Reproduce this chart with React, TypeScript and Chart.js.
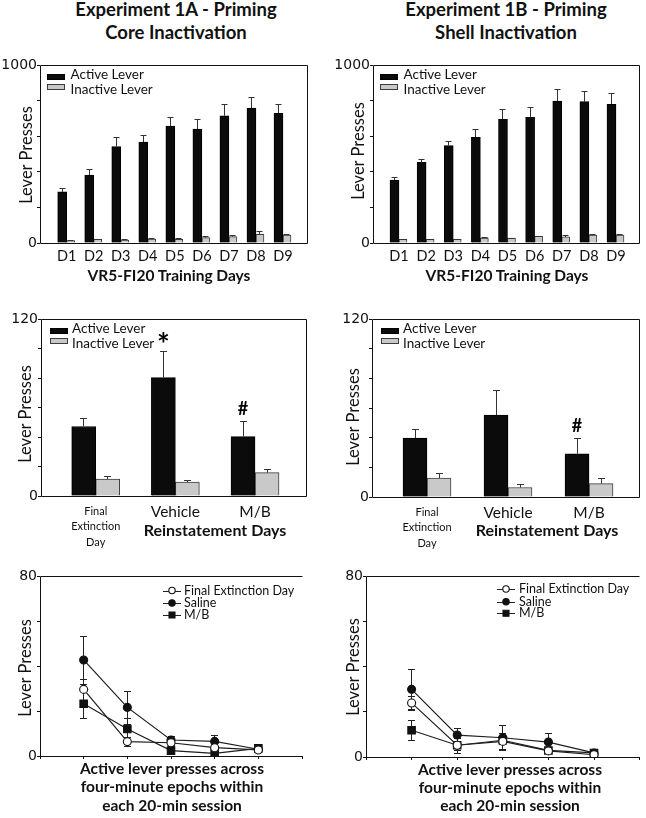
import React, { useEffect, useRef } from "react";
import { Chart, registerables } from "chart.js";

Chart.register(...registerables);

// ---------------- DATA ----------------
const trainingDays = ["D1", "D2", "D3", "D4", "D5", "D6", "D7", "D8", "D9"];

const coreTrainActive = [287, 382, 541, 567, 657, 640, 715, 758, 729];
const coreTrainActiveSem = [24, 34, 56, 38, 49, 58, 64, 62, 50];
const coreTrainInactive = [13, 20, 17, 22, 20, 30, 36, 49, 45];
const coreTrainInactiveSem = [3, 3, 3, 6, 6, 8, 8, 18, 7];

const shellTrainActive = [354, 453, 547, 594, 695, 706, 798, 794, 779];
const shellTrainActiveSem = [18, 21, 26, 45, 56, 60, 67, 58, 62];
const shellTrainInactive = [20, 20, 20, 27, 27, 37, 34, 45, 45];
const shellTrainInactiveSem = [3, 3, 3, 4, 3, 4, 11, 8, 8];

const reinstCategories: (string | string[])[] = [["Final", "Extinction", "Day"], "Vehicle", "M/B"];

const coreReinstActive = [47.1, 80.3, 40.3];
const coreReinstActiveSem = [5.7, 18.0, 10.8];
const coreReinstInactive = [11.5, 9.5, 15.8];
const coreReinstInactiveSem = [2.3, 1.6, 2.3];
const coreReinstMarks = ["", "*", "#"];

const shellReinstActive = [39.7, 55.3, 29.1];
const shellReinstActiveSem = [5.9, 16.7, 10.4];
const shellReinstInactive = [12.7, 6.4, 9.0];
const shellReinstInactiveSem = [3.5, 2.4, 3.9];
const shellReinstMarks = ["", "", "#"];

const epochs = [1, 2, 3, 4, 5];

const coreEpochFinalExt = [29.6, 6.4, 5.9, 3.7, 2.7];
const coreEpochFinalExtSem = [4.6, 2.0, 1.5, 1.5, 1.0];
const coreEpochSaline = [42.7, 21.6, 7.1, 6.5, 3.0];
const coreEpochSalineSem = [10.5, 7.5, 2.0, 3.0, 1.0];
const coreEpochMB = [23.2, 12.0, 2.4, 1.2, 3.4];
const coreEpochMBSem = [6.5, 5.0, 1.0, 0.5, 1.0];

const shellEpochFinalExt = [23.9, 5.2, 6.9, 2.7, 1.0];
const shellEpochFinalExtSem = [3.0, 2.0, 3.5, 1.0, 0.8];
const shellEpochSaline = [29.9, 9.7, 8.5, 6.6, 1.8];
const shellEpochSalineSem = [8.8, 3.0, 5.5, 4.2, 0.8];
const shellEpochMB = [11.8, 5.2, 7.4, 2.9, 1.8];
const shellEpochMBSem = [4.4, 3.4, 1.5, 1.0, 0.8];

// ---------------- STYLE ----------------
const FONT = "Lato, 'Open Sans', sans-serif";
const NUMFONT = "'DejaVu Sans', sans-serif";
const INK = "#111111";

type Box = {
  left: number; top: number; width: number; height: number;
  yW: number; xH: number; padTop: number; padRight: number;
};

const align = (p: number) => Math.round(p - 0.5) + 0.5;

function framePlugin(sides: { top: boolean; right: boolean; bottom: boolean; left: boolean }) {
  return {
    id: "frame",
    afterDraw(chart: any) {
      const { ctx, chartArea: a } = chart;
      const L = align(a.left), R = align(a.right), T = align(a.top), B = align(a.bottom);
      ctx.save();
      ctx.strokeStyle = INK;
      ctx.lineWidth = 1;
      ctx.beginPath();
      if (sides.top) { ctx.moveTo(L, T); ctx.lineTo(R, T); }
      if (sides.right) { ctx.moveTo(R, T); ctx.lineTo(R, B); }
      if (sides.bottom) { ctx.moveTo(L, B); ctx.lineTo(R, B); }
      if (sides.left) { ctx.moveTo(L, T); ctx.lineTo(L, B); }
      ctx.stroke();
      ctx.restore();
    },
  };
}

function barExtrasPlugin(opts: { capW: number; marks?: string[] }) {
  return {
    id: "barExtras",
    afterDatasetsDraw(chart: any) {
      const { ctx } = chart;
      const ys = chart.scales.y;
      ctx.save();
      chart.data.datasets.forEach((ds: any, di: number) => {
        const meta = chart.getDatasetMeta(di);
        meta.data.forEach((el: any, i: number) => {
          const v = ds.data[i].y;
          const s = ds.sem[i];
          const top = Math.round(ys.getPixelForValue(v + s)) + 0.5;
          const x = align(el.x);
          ctx.strokeStyle = "#333";
          ctx.lineWidth = 1;
          ctx.beginPath();
          ctx.moveTo(x, el.y);
          ctx.lineTo(x, top);
          ctx.moveTo(x - opts.capW / 2, top);
          ctx.lineTo(x + opts.capW / 2, top);
          ctx.stroke();
          if (di === 0 && opts.marks && opts.marks[i]) {
            const m = opts.marks[i];
            ctx.fillStyle = "#000";
            ctx.font = m === "*" ? `bold 30px ${FONT}` : `bold 18px ${FONT}`;
            ctx.textAlign = "center";
            ctx.textBaseline = "alphabetic";
            const mt = ctx.measureText(m);
            const cy = top - 14;
            const base = cy + (mt.actualBoundingBoxAscent - mt.actualBoundingBoxDescent) / 2;
            ctx.fillText(m, el.x, base);
          }
        });
      });
      ctx.restore();
    },
  };
}

function barLegendPlugin(opts: { rectX: number; rectW: number; rectH: number; rectDy: number[]; textX: number; textDy: number[] }) {
  return {
    id: "barLegend",
    afterDraw(chart: any) {
      const { ctx, chartArea: a } = chart;
      ctx.save();
      chart.data.datasets.forEach((ds: any, i: number) => {
        const x = Math.round(a.left + opts.rectX);
        const y = Math.round(a.top + opts.rectDy[i] - opts.rectH / 2);
        ctx.fillStyle = ds.backgroundColor;
        ctx.fillRect(x, y, opts.rectW, opts.rectH);
        ctx.strokeStyle = ds.borderColor;
        ctx.lineWidth = 1;
        ctx.strokeRect(x + 0.5, y + 0.5, opts.rectW - 1, opts.rectH - 1);
        ctx.fillStyle = INK;
        ctx.font = `13.5px ${FONT}`;
        ctx.textAlign = "left";
        ctx.textBaseline = "middle";
        ctx.fillText(ds.label, a.left + opts.textX, a.top + opts.textDy[i]);
      });
      ctx.restore();
    },
  };
}

function drawMarker(ctx: any, ds: any, x: number, y: number, scale: number) {
  ctx.beginPath();
  if (ds.pointStyle === "rect") {
    const h = ds.pointRadius * Math.SQRT1_2 * scale;
    ctx.rect(x - h, y - h, 2 * h, 2 * h);
  } else {
    ctx.arc(x, y, ds.pointRadius * scale, 0, Math.PI * 2);
  }
  ctx.fillStyle = ds.pointBackgroundColor;
  ctx.fill();
  ctx.strokeStyle = ds.pointBorderColor;
  ctx.lineWidth = 1.1;
  ctx.stroke();
}

function lineExtrasPlugin(opts: { capW: number; markX: number; textX: number; rowDy: number[] }) {
  return {
    id: "lineExtras",
    beforeDatasetsDraw(chart: any) {
      const { ctx } = chart;
      const xs = chart.scales.x, ys = chart.scales.y;
      ctx.save();
      ctx.strokeStyle = "#222";
      ctx.lineWidth = 1;
      chart.data.datasets.forEach((ds: any) => {
        ds.data.forEach((p: any, i: number) => {
          const s = ds.sem[i];
          const x = align(xs.getPixelForValue(p.x));
          const t = Math.round(ys.getPixelForValue(p.y + s)) + 0.5;
          const b = Math.round(ys.getPixelForValue(Math.max(0, p.y - s))) + 0.5;
          ctx.beginPath();
          ctx.moveTo(x, t); ctx.lineTo(x, b);
          ctx.moveTo(x - opts.capW / 2, t); ctx.lineTo(x + opts.capW / 2, t);
          ctx.moveTo(x - opts.capW / 2, b); ctx.lineTo(x + opts.capW / 2, b);
          ctx.stroke();
        });
      });
      ctx.restore();
    },
    afterDraw(chart: any) {
      const { ctx, chartArea: a } = chart;
      ctx.save();
      chart.data.datasets.forEach((ds: any, i: number) => {
        const cx = a.left + opts.markX;
        const cy = a.top + opts.rowDy[i];
        ctx.strokeStyle = "#222";
        ctx.lineWidth = 1;
        ctx.beginPath();
        ctx.moveTo(cx - 9, Math.round(cy) + 0.5);
        ctx.lineTo(cx + 9, Math.round(cy) + 0.5);
        ctx.stroke();
        drawMarker(ctx, ds, cx, cy, 0.8);
        ctx.fillStyle = INK;
        ctx.font = `12.5px ${FONT}`;
        ctx.textAlign = "left";
        ctx.textBaseline = "middle";
        ctx.fillText(ds.label, a.left + opts.textX, cy);
      });
      ctx.restore();
    },
  };
}

function yAxis(box: Box, max: number, step: number) {
  return {
    type: "linear",
    min: 0,
    max,
    afterFit: (ax: any) => { ax.width = box.yW; },
    grid: { drawOnChartArea: false, drawTicks: true, tickLength: 3, color: INK },
    border: { display: false },
    ticks: {
      stepSize: step,
      padding: 0,
      color: INK,
      font: { family: NUMFONT, size: 14 },
      callback: (v: number) => (v === 0 || v === max ? String(v) : ""),
    },
  };
}

function barConfig(p: {
  box: Box; labels: (string | string[])[];
  active: number[]; activeSem: number[]; inactive: number[]; inactiveSem: number[];
  marks?: string[]; yMax: number; yStep: number; xMin: number; xMax: number;
  barW: number[]; capW: number; tickFont: (i: number) => any; tickPad: number;
  legend: { rectX: number; rectW: number; rectH: number; rectDy: number[]; textX: number; textDy: number[] };
}) {
  const { box } = p;
  return {
    type: "bar",
    data: {
      datasets: [
        {
          label: "Active Lever",
          data: p.active.map((v, i) => ({ x: i + 1, y: v })),
          sem: p.activeSem,
          backgroundColor: "#0b0b0b",
          borderColor: "#000000",
          borderWidth: 1,
          borderSkipped: "start",
          barThickness: p.barW[0],
        },
        {
          label: "Inactive Lever",
          data: p.inactive.map((v, i) => ({ x: i + 1, y: v })),
          sem: p.inactiveSem,
          backgroundColor: "#c9c9c9",
          borderColor: "#3c3c3c",
          borderWidth: 1,
          borderSkipped: "start",
          barThickness: p.barW[1],
        },
      ],
    },
    options: {
      responsive: false,
      animation: false,
      devicePixelRatio: 1,
      layout: { padding: { top: box.padTop, right: box.padRight, left: 0, bottom: 0 } },
      plugins: { legend: { display: false }, tooltip: { enabled: false } },
      scales: {
        x: {
          type: "linear",
          min: p.xMin,
          max: p.xMax,
          offset: false,
          afterBuildTicks: (ax: any) => { ax.ticks = p.labels.map((_, i) => ({ value: i + 1 })); },
          afterFit: (ax: any) => { ax.height = box.xH; },
          grid: { display: false, drawTicks: false, offset: false },
          border: { display: false },
          ticks: {
            autoSkip: false,
            maxRotation: 0,
            minRotation: 0,
            padding: p.tickPad,
            color: INK,
            font: (ctx: any) => p.tickFont(ctx.index),
            callback: (_v: any, i: number) => p.labels[i],
          },
        },
        y: yAxis(box, p.yMax, p.yStep),
      },
    },
    plugins: [
      framePlugin({ top: true, right: true, bottom: true, left: true }),
      barExtrasPlugin({ capW: p.capW, marks: p.marks }),
      barLegendPlugin(p.legend),
    ],
  };
}

function lineConfig(p: {
  box: Box; fe: number[]; feSem: number[]; sal: number[]; salSem: number[]; mb: number[]; mbSem: number[];
  markX: number; textX: number; rowDy: number[];
}) {
  const { box } = p;
  const common = {
    borderColor: "#1e1e1e",
    borderWidth: 1.2,
    pointBorderColor: "#111",
    pointBorderWidth: 1.1,
    fill: false,
    tension: 0,
  };
  const xy = (arr: number[]) => arr.map((v, i) => ({ x: epochs[i], y: v }));
  return {
    type: "line",
    data: {
      datasets: [
        { ...common, label: "Final Extinction Day", data: xy(p.fe), sem: p.feSem, pointStyle: "circle", pointRadius: 4, pointBackgroundColor: "#ffffff" },
        { ...common, label: "Saline", data: xy(p.sal), sem: p.salSem, pointStyle: "circle", pointRadius: 4, pointBackgroundColor: "#111111" },
        { ...common, label: "M/B", data: xy(p.mb), sem: p.mbSem, pointStyle: "rect", pointRadius: 5.3, pointBackgroundColor: "#111111" },
      ],
    },
    options: {
      responsive: false,
      animation: false,
      devicePixelRatio: 1,
      layout: { padding: { top: box.padTop, right: box.padRight, left: 0, bottom: 0 } },
      plugins: { legend: { display: false }, tooltip: { enabled: false } },
      scales: {
        x: {
          type: "linear",
          min: 0,
          max: 6,
          offset: false,
          afterFit: (ax: any) => { ax.height = box.xH; },
          grid: { display: true, drawOnChartArea: false, drawTicks: true, tickLength: 3, color: INK },
          border: { display: false },
          ticks: { stepSize: 1, display: false },
        },
        y: yAxis(box, 80, 20),
      },
    },
    plugins: [
      framePlugin({ top: true, right: false, bottom: true, left: true }),
      lineExtrasPlugin({ capW: 7, markX: p.markX, textX: p.textX, rowDy: p.rowDy }),
    ],
  };
}

// ---------------- LAYOUT ----------------
const boxTL: Box = { left: 0, top: 55, width: 315, height: 215, yW: 40, xH: 27, padTop: 10, padRight: 8 };
const boxTR: Box = { left: 323, top: 55, width: 323, height: 215, yW: 50, xH: 27, padTop: 10, padRight: 7 };
const boxML: Box = { left: 0, top: 309, width: 315, height: 251, yW: 41, xH: 64, padTop: 10, padRight: 9 };
const boxMR: Box = { left: 323, top: 309, width: 323, height: 251, yW: 49, xH: 63, padTop: 10, padRight: 7 };
const boxBL: Box = { left: 0, top: 566, width: 315, height: 200, yW: 40, xH: 10, padTop: 10, padRight: 13 };
const boxBR: Box = { left: 323, top: 566, width: 323, height: 200, yW: 43, xH: 9, padTop: 10, padRight: 6 };

const dayFont = () => ({ family: FONT, size: 14.5, lineHeight: 1.2 });
const reinstFont = (i: number) =>
  i === 0 ? { family: FONT, size: 11, lineHeight: 1.45 } : { family: FONT, size: 15.5, lineHeight: 1.2 };

const barLegend = { rectX: 7, rectW: 18, rectH: 6, rectDy: [11.5, 21.5], textX: 30.5, textDy: [10, 25] };

function ChartBox({ box, build }: { box: Box; build: () => any }) {
  const ref = useRef<HTMLCanvasElement | null>(null);
  useEffect(() => {
    if (!ref.current) return;
    const chart = new Chart(ref.current, build());
    return () => chart.destroy();
  }, []);
  return (
    <canvas
      ref={ref}
      width={box.width}
      height={box.height}
      style={{ position: "absolute", left: box.left, top: box.top, width: box.width, height: box.height }}
    />
  );
}

// Text placed by baseline of first line
function Txt({ x, base, size, bold, lh, lines }: { x: number; base: number; size: number; bold?: boolean; lh?: number; lines: string[] }) {
  const L = lh ?? size * 1.2;
  const top = base - (L - 1.2 * size) / 2 - 0.987 * size;
  return (
    <div
      style={{
        position: "absolute",
        left: x,
        top,
        transform: "translateX(-50%)",
        fontFamily: FONT,
        fontSize: size,
        fontWeight: bold ? 700 : 400,
        lineHeight: `${L}px`,
        color: INK,
        whiteSpace: "nowrap",
        textAlign: "center",
      }}
    >
      {lines.map((s, i) => (
        <div key={i}>{s}</div>
      ))}
    </div>
  );
}

function YTitle({ cx, cy }: { cx: number; cy: number }) {
  return (
    <div
      style={{
        position: "absolute",
        left: cx,
        top: cy,
        transform: "translate(-50%, -50%) rotate(-90deg)",
        fontFamily: FONT,
        fontSize: 16.5,
        lineHeight: "19.8px",
        color: INK,
        whiteSpace: "nowrap",
      }}
    >
      Lever Presses
    </div>
  );
}

export default function App() {
  return (
    <div style={{ position: "absolute", left: 0, top: 0, width: 646, height: 818, background: "#fff", overflow: "hidden" }}>
      <Txt x={176} base={16.7} size={18.5} bold lh={23.4} lines={["Experiment 1A - Priming", "Core Inactivation"]} />
      <Txt x={506} base={16.7} size={18.5} bold lh={23.4} lines={["Experiment 1B - Priming", "Shell Inactivation"]} />

      <ChartBox
        box={boxTL}
        build={() =>
          barConfig({
            box: boxTL, labels: trainingDays,
            active: coreTrainActive, activeSem: coreTrainActiveSem,
            inactive: coreTrainInactive, inactiveSem: coreTrainInactiveSem,
            yMax: 1000, yStep: 200, xMin: 0.013, xMax: 9.888,
            barW: [9, 8], capW: 6, tickFont: dayFont, tickPad: 5, legend: barLegend,
          })
        }
      />
      <ChartBox
        box={boxTR}
        build={() =>
          barConfig({
            box: boxTR, labels: trainingDays,
            active: shellTrainActive, activeSem: shellTrainActiveSem,
            inactive: shellTrainInactive, inactiveSem: shellTrainInactiveSem,
            yMax: 1000, yStep: 200, xMin: 0.042, xMax: 9.848,
            barW: [9, 8], capW: 6, tickFont: dayFont, tickPad: 5, legend: barLegend,
          })
        }
      />
      <ChartBox
        box={boxML}
        build={() =>
          barConfig({
            box: boxML, labels: reinstCategories,
            active: coreReinstActive, activeSem: coreReinstActiveSem,
            inactive: coreReinstInactive, inactiveSem: coreReinstInactiveSem,
            marks: coreReinstMarks,
            yMax: 120, yStep: 20, xMin: 0.313, xMax: 3.64,
            barW: [24, 24], capW: 7, tickFont: reinstFont, tickPad: 7,
            legend: { ...barLegend, rectX: 9, textX: 31 },
          })
        }
      />
      <ChartBox
        box={boxMR}
        build={() =>
          barConfig({
            box: boxMR, labels: reinstCategories,
            active: shellReinstActive, activeSem: shellReinstActiveSem,
            inactive: shellReinstInactive, inactiveSem: shellReinstInactiveSem,
            marks: shellReinstMarks,
            yMax: 120, yStep: 20, xMin: 0.321, xMax: 3.617,
            barW: [24, 24], capW: 7, tickFont: reinstFont, tickPad: 7,
            legend: { ...barLegend, rectX: 9, textX: 31 },
          })
        }
      />
      <ChartBox
        box={boxBL}
        build={() =>
          lineConfig({
            box: boxBL,
            fe: coreEpochFinalExt, feSem: coreEpochFinalExtSem,
            sal: coreEpochSaline, salSem: coreEpochSalineSem,
            mb: coreEpochMB, mbSem: coreEpochMBSem,
            markX: 132, textX: 144, rowDy: [14.5, 27, 39],
          })
        }
      />
      <ChartBox
        box={boxBR}
        build={() =>
          lineConfig({
            box: boxBR,
            fe: shellEpochFinalExt, feSem: shellEpochFinalExtSem,
            sal: shellEpochSaline, salSem: shellEpochSalineSem,
            mb: shellEpochMB, mbSem: shellEpochMBSem,
            markX: 140, textX: 153, rowDy: [13, 25.7, 37.3],
          })
        }
      />

      <YTitle cx={27} cy={155} />
      <YTitle cx={359} cy={151} />
      <YTitle cx={26} cy={414} />
      <YTitle cx={354} cy={417} />
      <YTitle cx={26} cy={668} />
      <YTitle cx={354} cy={667} />

      <Txt x={169} base={281.7} size={15.5} bold lines={["VR5-FI20 Training Days"]} />
      <Txt x={507} base={281.7} size={15.5} bold lines={["VR5-FI20 Training Days"]} />

      <Txt x={215} base={535.5} size={16} bold lines={["Reinstatement Days"]} />
      <Txt x={547} base={535.5} size={16} bold lines={["Reinstatement Days"]} />

      <Txt
        x={172}
        base={774.3}
        size={15.5}
        bold
        lh={18.3}
        lines={["Active lever presses across", "four-minute epochs within", "each 20-min session"]}
      />
      <Txt
        x={510}
        base={775}
        size={15.5}
        bold
        lh={18.3}
        lines={["Active lever presses across", "four-minute epochs within", "each 20-min session"]}
      />
    </div>
  );
}
